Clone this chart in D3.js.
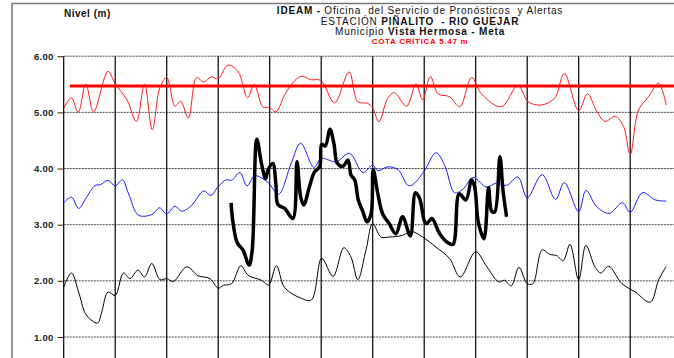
<!DOCTYPE html>
<html lang="es">
<head>
<meta charset="UTF-8">
<title>Nivel - Piñalito Rio Guejar</title>
<script src="https://cdn.jsdelivr.net/npm/d3@7"></script>
<style>
    body{ margin:0; background:#fff; }
    svg{ display:block; font-family:"Liberation Sans", Arial, sans-serif; }
    .grid-h line{ stroke:#444; stroke-dasharray:2,1; }
    .grid-v line{ stroke:#000; }
    .axis text{ font-size:9.5px; font-weight:bold; fill:#222; letter-spacing:0.3px; }
    .axis line{ stroke:#222; }
    .series{ fill:none; }
    .title{ font-size:10px; fill:#111; letter-spacing:0.8px; white-space:pre; }
</style>
</head>
<body>
<svg id="chart" width="674" height="358"></svg>
<script>
// month positions (0 = start of record, one unit per vertical grid line)
var months = d3.range(0, 13);
var yTicks = [1, 2, 3, 4, 5, 6];
var cotaCritica = 5.47;

// historic maximum (red)
var maxX = [0,0.15,0.28,0.43,0.58,0.86,1.0,1.23,1.41,1.57,1.72,1.87,2.0,2.16,2.27,2.42,2.58,2.72,2.86,3.0,
    3.19,3.39,3.57,3.70,3.87,3.99,4.12,4.32,4.6,4.81,4.99,5.26,5.54,5.71,5.90,6.0,
    6.12,6.29,6.42,6.66,6.84,6.97,7.12,7.27,7.49,7.69,7.92,8.11,8.5,8.82,9.02,
    9.27,9.53,9.72,10.0,10.17,10.35,10.51,10.71,10.87,11.0,11.16,11.36,11.55,11.70];
var maxV = [5.07,5.26,5.0,5.50,5.01,5.73,5.51,5.22,4.84,5.50,4.69,5.45,5.62,5.11,5.20,4.90,5.62,5.54,5.63,5.60,
    5.84,5.72,5.26,5.50,5.09,5.09,5.01,5.36,5.64,5.58,5.57,5.17,5.72,5.19,5.16,5.08,
    4.83,5.25,5.35,5.11,5.51,5.22,5.64,5.33,5.28,5.10,5.62,5.33,5.10,5.48,5.19,
    5.13,5.25,5.69,5.03,5.33,5.02,4.84,4.93,4.75,4.25,5.04,5.28,5.52,5.13];

// historic mean (blue)
var meanX = [0,0.15,0.29,0.45,0.61,0.71,0.86,1.0,1.14,1.26,1.45,1.71,1.86,2.0,2.16,2.29,2.48,2.72,2.86,3.0,
    3.16,3.26,3.42,3.56,3.71,3.97,4.17,4.42,4.6,4.86,5.0,5.29,5.55,5.81,6.0,
    6.1,6.29,6.49,6.71,6.97,7.23,7.40,7.59,7.75,7.95,8.21,8.40,8.60,8.82,9.0,
    9.29,9.55,9.72,10.0,10.14,10.35,10.59,10.85,11.0,11.24,11.49,11.70];
var meanV = [3.39,3.49,3.29,3.50,3.70,3.71,3.79,3.69,3.80,3.55,3.17,3.18,3.30,3.19,3.33,3.24,3.34,3.60,3.52,3.68,
    3.80,3.79,3.93,3.69,3.87,3.75,3.54,4.10,4.45,4.02,4.18,4.12,4.27,3.93,4.06,
    3.96,4.03,3.98,3.69,3.91,4.28,4.05,3.57,3.63,3.84,3.67,3.74,3.70,3.85,3.48,
    3.89,3.45,3.75,3.23,3.61,3.32,3.20,3.39,3.22,3.57,3.44,3.42];

// historic minimum (thin black)
var minX = [0,0.15,0.29,0.42,0.55,0.66,0.74,0.86,1.0,1.16,1.29,1.44,1.57,1.71,1.87,2.0,2.13,2.39,2.61,2.84,3.0,
    3.1,3.26,3.44,3.58,3.84,3.98,4.13,4.29,4.61,4.81,5.01,5.23,5.44,5.58,5.71,5.87,6.0,
    6.16,6.32,6.58,6.75,6.97,7.23,7.49,7.70,8.0,8.21,8.45,8.56,8.69,8.84,9.0,
    9.11,9.29,9.44,9.57,9.70,9.83,10.0,10.14,10.32,10.43,10.58,10.84,11.10,11.39,11.55,11.70];
var minV = [1.89,2.14,1.80,1.42,1.29,1.25,1.45,1.80,1.74,2.14,2.04,2.19,2.07,2.31,2.02,2.04,1.99,2.25,2.09,2.04,1.87,
    1.92,1.95,2.27,2.10,2.01,1.93,2.27,1.88,1.69,1.66,2.40,2.08,2.59,2.42,2.02,2.55,3.02,
    2.78,2.78,2.81,2.88,2.78,2.60,2.40,2.07,2.52,2.26,1.98,2.01,1.91,2.24,1.95,
    1.95,2.55,2.47,2.45,2.36,2.65,2.02,2.63,2.24,2.14,2.26,1.95,1.80,1.62,2.01,2.26];

// observed level, current year (thick black)
var obsX = [3.25,3.29,3.37,3.48,3.60,3.66,3.75,3.84,3.92,3.97,4.06,4.12,4.16,4.29,4.45,4.53,4.60,4.66,4.77,4.87,4.97,
    5.01,5.08,5.17,5.25,5.31,5.42,5.52,5.58,5.65,5.72,5.81,5.89,5.97,6.01,
    6.10,6.19,6.32,6.45,6.58,6.73,6.83,6.91,7.01,7.05,7.15,7.30,7.46,7.56,7.68,7.81,7.92,7.98,
    8.05,8.16,8.25,8.31,8.37,8.47,8.53,8.60];
var obsV = [3.39,3.02,2.68,2.55,2.28,2.55,4.52,4.09,3.82,3.98,4.09,3.73,3.36,3.29,3.11,4.12,3.50,3.35,3.67,3.94,4.03,
    4.43,4.40,4.70,4.43,4.10,4.04,4.15,3.88,3.80,3.44,3.23,3.05,3.20,3.98,
    3.55,3.20,3.02,2.84,3.14,2.80,3.57,3.47,3.05,3.02,3.11,2.84,2.68,2.65,3.55,3.44,3.80,3.67,
    3.05,2.75,3.66,3.24,3.23,4.21,3.61,3.14];

var svg = d3.select("#chart"),
    W = +svg.attr("width"), H = +svg.attr("height");

var x = d3.scaleLinear().domain([0, 12]).range([63.7, 681.7]);
var y = d3.scaleLinear().domain([1, 6]).range([337, 56.2]);

// outer frame (left + top, rest is cropped)
svg.append("path")
    .attr("d", "M12," + H + "V3.5H" + W)
    .attr("fill", "none").attr("stroke", "#777").attr("stroke-width", 1.5);

// horizontal dashed grid
svg.append("g").attr("class", "grid-h")
    .selectAll("line").data(yTicks).enter().append("line")
    .attr("x1", x(0)).attr("x2", W)
    .attr("y1", function(d){ return y(d); }).attr("y2", function(d){ return y(d); });

// vertical month lines
svg.append("g").attr("class", "grid-v")
    .selectAll("line").data(months).enter().append("line")
    .attr("x1", function(d){ return x(d); }).attr("x2", function(d){ return x(d); })
    .attr("y1", y(6)).attr("y2", H)
    .attr("stroke-width", 1.2);

// y axis labels
var yAxis = svg.append("g").attr("class", "axis")
    .attr("transform", "translate(" + x(0) + ",0)")
    .call(d3.axisLeft(y).tickValues(yTicks).tickFormat(d3.format(".2f")).tickSize(6).tickPadding(4));
yAxis.select(".domain").remove();

svg.append("clipPath").attr("id", "plot")
    .append("rect").attr("x", x(0)).attr("y", 0).attr("width", W - x(0)).attr("height", H);

var line = d3.line()
    .x(function(d){ return x(d[0]); })
    .y(function(d){ return y(d[1]); })
    .curve(d3.curveCatmullRom.alpha(0.5));

function pairs(xs, vs){ return xs.map(function(v, i){ return [v, vs[i]]; }); }

var g = svg.append("g").attr("clip-path", "url(#plot)");

g.append("path").attr("class", "series")
    .attr("d", line(pairs(minX, minV)))
    .attr("stroke", "#000").attr("stroke-width", 1);

g.append("path").attr("class", "series")
    .attr("d", line(pairs(meanX, meanV)))
    .attr("stroke", "#1a1aff").attr("stroke-width", 1);

g.append("path").attr("class", "series")
    .attr("d", line(pairs(maxX, maxV)))
    .attr("stroke", "#ff1a1a").attr("stroke-width", 1);

// cota critica
g.append("line")
    .attr("x1", x(0.12)).attr("x2", W)
    .attr("y1", y(cotaCritica)).attr("y2", y(cotaCritica))
    .attr("stroke", "#ff0000").attr("stroke-width", 3);

g.append("path").attr("class", "series")
    .attr("d", line(pairs(obsX, obsV)))
    .attr("stroke", "#000").attr("stroke-width", 3.5)
    .attr("stroke-linejoin", "round");

// texts
svg.append("text").attr("x", 64).attr("y", 17)
    .attr("font-size", "10px").attr("font-weight", "bold").attr("fill", "#111")
    .attr("letter-spacing", "0.5px")
    .text("Nivel (m)");

var cx = 420;
var t1 = svg.append("text").attr("class", "title").attr("x", cx).attr("y", 14).attr("text-anchor", "middle");
t1.append("tspan").attr("font-weight", "bold").text("IDEAM - ");
t1.append("tspan").text("Oficina  del Servicio de Pronósticos  y Alertas");

var t2 = svg.append("text").attr("class", "title").attr("x", cx).attr("y", 24.5).attr("text-anchor", "middle");
t2.append("tspan").text("ESTACIÓN ");
t2.append("tspan").attr("font-weight", "bold").text("PIÑALITO  - RIO GUEJAR");

var t3 = svg.append("text").attr("class", "title").attr("x", cx).attr("y", 35).attr("text-anchor", "middle");
t3.append("tspan").text("Municipio ");
t3.append("tspan").attr("font-weight", "bold").text("Vista Hermosa - Meta");

svg.append("text").attr("x", cx).attr("y", 43.5).attr("text-anchor", "middle")
    .attr("font-size", "8px").attr("font-weight", "bold").attr("fill", "#ff0000")
    .attr("letter-spacing", "0.7px")
    .text("COTA CRÍTICA 5.47 m");
</script>
</body>
</html>
